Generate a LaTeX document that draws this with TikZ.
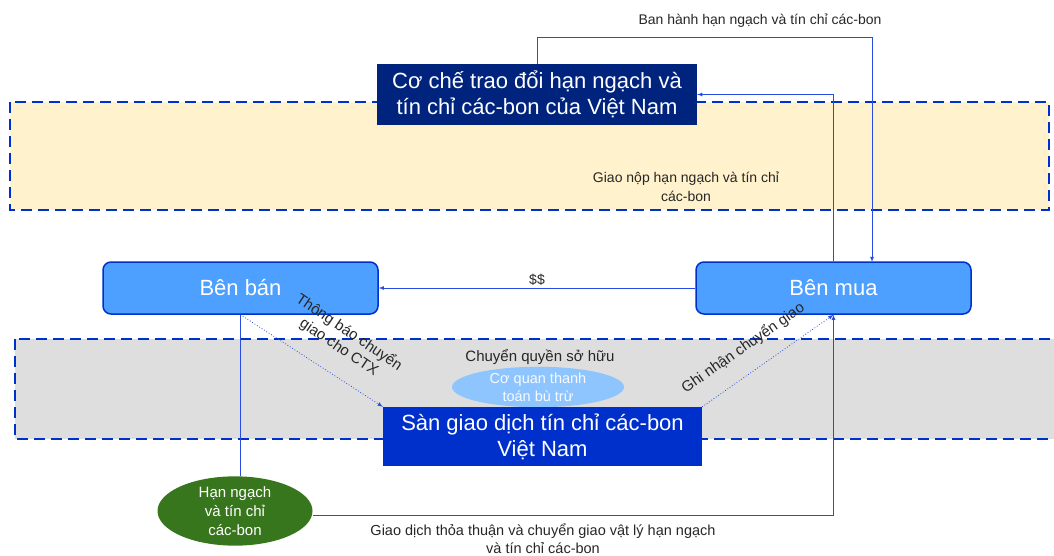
\documentclass[tikz,border=0pt]{standalone}
\usepackage{fontspec}
\setmainfont{Liberation Sans}
\usetikzlibrary{shapes,arrows,calc,positioning}

\definecolor{navy}{RGB}{0,36,125}
\definecolor{sky}{RGB}{77,160,255}
\definecolor{royal}{RGB}{0,48,204}
\definecolor{cream}{RGB}{255,242,204}
\definecolor{silver}{RGB}{222,222,222}
\definecolor{linkblue}{RGB}{40,75,225}
\definecolor{pale}{RGB}{143,197,255}
\definecolor{leaf}{RGB}{56,118,29}

\begin{document}
\begin{tikzpicture}[x=1pt,y=-1pt,
  band/.style={draw=royal,line width=2.5pt,dash pattern=on 11pt off 6pt},
  partybox/.style={draw=royal,fill=sky,rounded corners=8pt,line width=1.5pt,minimum width=275pt,minimum height=52pt,text=white,font=\fontsize{22}{26}\selectfont},
  bigbox/.style={text=white,align=center,inner sep=0pt,font=\fontsize{22}{26}\selectfont},
  conn/.style={linkblue,line width=0.8pt,-latex},
  notify/.style={conn,dotted},
  lbl/.style={font=\fontsize{14}{18.5}\selectfont,text=black!85,align=center,inner sep=1pt}]

\useasboundingbox (0,0) rectangle (1054,556);

%% the two dashed zones
\fill[cream] (10,102) rectangle (1049,210);
\draw[band] (10,102) rectangle (1049,210);
\fill[silver] (15,339) rectangle (1070,439);
\draw[band] (15,339) rectangle (1070,439);

%% boxes
\node[bigbox,fill=navy,minimum width=320pt,minimum height=61pt] (coche) at (537,94.5) {Cơ chế trao đổi hạn ngạch và\\tín chỉ các-bon của Việt Nam};
\node[partybox] (ban) at (240.5,288) {Bên bán};
\node[partybox] (mua) at (833.5,288) {Bên mua};
\node[ellipse,fill=pale,minimum width=172pt,minimum height=39pt,inner sep=0pt,text=white!92!pale,align=center,font=\fontsize{14.5}{18}\selectfont] (ttbt) at (538,387) {Cơ quan thanh\\toán bù trừ};
\node[bigbox,fill=royal,minimum width=319pt,minimum height=59pt] (san) at (542.5,436.5) {Sàn giao dịch tín chỉ các-bon\\Việt Nam};
\node[ellipse,fill=leaf,minimum width=155pt,minimum height=58pt,inner sep=0pt,text=white,align=center,font=\fontsize{15}{19}\selectfont] (hanngach) at (235,511) {Hạn ngạch\\và tín chỉ\\các-bon};

%% connectors
\draw[conn] (coche.north) |- (872,37) -- (872,262);
\draw[conn] (mua.north) |- (coche.east);
\draw[conn] (mua.west) -- (ban.east);
\draw[notify] (ban.south) -- (san.north west);
\draw[notify] (san.north east) -- (mua.south);
\draw[linkblue,line width=0.8pt] (ban.south) -- (ban.south |- hanngach.north);
\draw[conn] ([yshift=-4pt]hanngach.east) -| (mua.south);

%% labels
\node[lbl] (lbhanh) at (760,21) {Ban hành hạn ngạch và tín chỉ các-bon};
\node[lbl,font=\fontsize{14}{19}\selectfont] (lbnop) at (686,187) {Giao nộp hạn ngạch và tín chỉ\\các-bon};
\node[lbl,font=\fontsize{14}{18}\selectfont] (lbtien) at (537,280) {\$\$};
\node[lbl,font=\fontsize{15}{18}\selectfont,rotate=-34] (lbbao) at (344,340) {Thông báo chuyển\\giao cho CTX};
\node[lbl,font=\fontsize{15}{18}\selectfont,rotate=35] (lbnhan) at (743,348) {Ghi nhận chuyển giao};
\node[lbl,font=\fontsize{15}{18}\selectfont] (lbquyen) at (540,357) {Chuyển quyền sở hữu};
\node[lbl,font=\fontsize{14.5}{18}\selectfont] (lbthuan) at (543,539) {Giao dịch thỏa thuận và chuyển giao vật lý hạn ngạch\\và tín chỉ các-bon};
\end{tikzpicture}
\end{document}
